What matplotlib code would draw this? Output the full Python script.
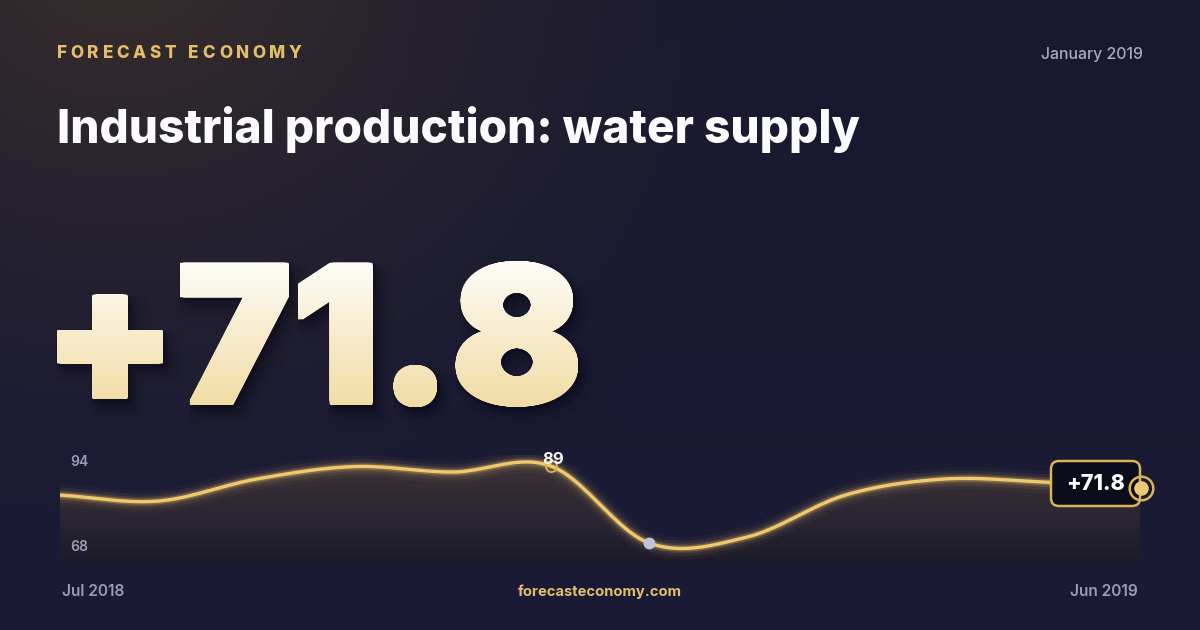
import numpy as np
import matplotlib
matplotlib.use("Agg")
import matplotlib.pyplot as plt
from matplotlib import font_manager as fm
from matplotlib.font_manager import FontProperties
from matplotlib.patches import FancyBboxPatch
from matplotlib.path import Path
from matplotlib.patheffects import AbstractPathEffect
from matplotlib.transforms import Affine2D, IdentityTransform, TransformedPath
from matplotlib.colors import LinearSegmentedColormap, to_rgb

# ---------------- data ----------------
months = ["Jul 2018", "Aug 2018", "Sep 2018", "Oct 2018", "Nov 2018", "Dec 2018",
          "Jan 2019", "Feb 2019", "Mar 2019", "Apr 2019", "May 2019", "Jun 2019"]
values = [66.3, 61.6, 78.8, 88.6, 84.3, 89.0, 28.8, 33.5, 66.3, 78.8, 76.5, 71.8]
headline = "+71.8"
brand = "FORECAST ECONOMY"
title = "Industrial production: water supply"
period = "January 2019"
site = "forecasteconomy.com"
range_top, range_bottom = "94", "68"
peak_label = "89"

W, H = 1200, 630
GOLD = "#EDC56A"
GOLD_DARK = "#D9B25A"
MUTED = "#9A9BB8"


def find_font(name, weight):
    for f in fm.fontManager.ttflist:
        if f.name == name and f.style == "normal" and str(f.weight) == str(weight):
            return FontProperties(fname=f.fname)
    return None


BIG_FP = (find_font("Inter", 900) or find_font("Lato", 900)
          or FontProperties(family="DejaVu Sans", weight="bold"))


class GradientBold(AbstractPathEffect):
    """Fill text with a vertical gradient, fitted into a pixel box, emboldened, with a soft shadow."""

    def __init__(self, top, bottom, box, grow=3.0):
        super().__init__()
        self.top = np.array(to_rgb(top))
        self.bottom = np.array(to_rgb(bottom))
        self.box = box  # x0, x1, ytop, ybot in top-left pixel coordinates
        self.grow = grow

    def draw_path(self, renderer, gc, tpath, affine, rgbFace=None):
        base = affine.transform_path(tpath)
        e = base.get_extents()
        r = self.grow
        hgt = renderer.height
        bx0, bx1, bt, bb = self.box
        tx0, tx1 = bx0 + r, bx1 - r
        ty0, ty1 = (hgt - bb) + r, (hgt - bt) - r
        fit = (Affine2D().translate(-e.x0, -e.y0)
               .scale((tx1 - tx0) / e.width, (ty1 - ty0) / e.height)
               .translate(tx0, ty0))
        base = base.transformed(fit)
        g1 = np.linspace(-r, r, 5)
        offs = [(0.0, 0.0)] + [(dx, dy) for dx in g1 for dy in g1
                               if abs(dx) == r or abs(dy) == r]
        bold = Path.make_compound_path(*[base.transformed(Affine2D().translate(dx, dy))
                                         for dx, dy in offs])
        ident = IdentityTransform()
        dark = (0.02, 0.02, 0.07)
        for dx, dy, lw, a in [(10, 13, 18, 0.035), (7, 10, 11, 0.05), (4, 6, 6, 0.08), (2, 3, 2, 0.11)]:
            g = renderer.new_gc()
            g.copy_properties(gc)
            g.set_alpha(a)
            g.set_linewidth(lw)
            g.set_foreground(dark)
            g.set_joinstyle("round")
            renderer.draw_path(g, bold, Affine2D().translate(dx, -dy), dark)
            g.restore()
        be = bold.get_extents()
        x0, y0 = int(np.floor(be.x0)), int(np.floor(be.y0))
        w = int(np.ceil(be.x1)) - x0 + 1
        h = int(np.ceil(be.y1)) - y0 + 1
        tt = np.linspace(0, 1, h)[:, None, None]   # row 0 = bottom of the glyphs
        rgb = self.bottom * (1 - tt) + self.top * tt
        img = np.ones((h, w, 4))
        img[..., :3] = rgb
        img = (img * 255).astype(np.uint8)
        g = renderer.new_gc()
        g.copy_properties(gc)
        g.set_alpha(1.0)
        g.set_clip_path(TransformedPath(bold, ident))
        renderer.draw_image(g, x0, y0, img)
        g.restore()


fig = plt.figure(figsize=(W / 100, H / 100), dpi=100)
bg = fig.add_axes([0, 0, 1, 1])
bg.set_xlim(0, W)
bg.set_ylim(H, 0)
bg.axis("off")

# ---------------- background ----------------
yy, xx = np.mgrid[0:H, 0:W]
base_c = np.array([24, 24, 47]) / 255.0
low_c = np.array([27, 27, 54]) / 255.0
t = (yy / H)[..., None]
img = base_c * (1 - t) + low_c * t
warm = np.array([56, 46, 44]) / 255.0
d = np.sqrt(((xx - 120) / 1.0) ** 2 + ((yy + 40) / 0.8) ** 2)
wgt = np.clip(1 - d / 760, 0, 1) ** 1.5
img = img * (1 - wgt[..., None]) + warm * wgt[..., None]
bg.imshow(img, extent=(0, W, H, 0), aspect="auto", zorder=0, interpolation="bilinear")

renderer = fig.canvas.get_renderer()


def text_width(tobj):
    return tobj.get_window_extent(renderer=renderer).width


# ---------------- header ----------------
chars = []
for ch in brand:
    tt = bg.text(0, 53, ch, color="#E2BE6A", fontsize=12.3, fontweight="heavy",
                 family="Inter", va="center", ha="left", zorder=5)
    chars.append((tt, text_width(tt) if ch != " " else 5))
total_glyph = sum(wc for _, wc in chars)
gap = (245 - total_glyph) / (len(chars) - 1)
x = 57
for tt, wc in chars:
    tt.set_x(x)
    x += wc + gap

bg.text(1143, 54, period, color="#A9AAC0", fontsize=11.4, family="Inter",
        fontweight="medium", va="center", ha="right", zorder=5)

ttl = bg.text(57, 143, title, color="#FBFBFD", fontsize=36, family="Inter",
              fontweight="heavy", va="baseline", ha="left", zorder=5)
ttl.set_fontsize(36 * 801 / text_width(ttl))

# ---------------- big headline (real text, gradient fill) ----------------
big = bg.text(57, 405, headline, fontproperties=BIG_FP, fontsize=140, color="#F6E6BC",
              ha="left", va="baseline", zorder=4,
              path_effects=[GradientBold("#FDFCF8", "#F2DCA4", (57, 578, 261, 407), grow=2.2)])

# ---------------- chart ----------------
L, R, T, B = 60, 1140, 455, 565
ax = fig.add_axes([L / W, (H - B) / H, (R - L) / W, (B - T) / H])
ax.patch.set_alpha(0)
ax.axis("off")
n = len(values)
xs = np.arange(n)
ax.set_xlim(0, n - 1)
ymin_v, ymax_v = 11.6, 97.6
ax.set_ylim(ymin_v, ymax_v)

vals = np.array(values, dtype=float)
m = np.zeros(n)
m[1:-1] = (vals[2:] - vals[:-2]) / 2
m[0] = vals[1] - vals[0]
m[-1] = vals[-1] - vals[-2]
cx, cy = [], []
for i in range(n - 1):
    s = np.linspace(0, 1, 40, endpoint=(i == n - 2))
    h00 = 2 * s**3 - 3 * s**2 + 1
    h10 = s**3 - 2 * s**2 + s
    h01 = -2 * s**3 + 3 * s**2
    h11 = s**3 - s**2
    cy.extend(h00 * vals[i] + h10 * m[i] + h01 * vals[i + 1] + h11 * m[i + 1])
    cx.extend(i + s)
cx = np.array(cx)
cy = np.array(cy)

fill = ax.fill_between(cx, cy, ymin_v, facecolor="none", edgecolor="none")
fill_cmap = LinearSegmentedColormap.from_list("f", ["#1c1a29", "#2b2632", "#3b3236"])
fimg = np.linspace(0, 1, 200)[:, None] * np.ones((1, 2))
fi = ax.imshow(fimg, extent=(0, n - 1, ymin_v, ymax_v - 8), origin="lower",
               cmap=fill_cmap, aspect="auto", zorder=1, interpolation="bilinear")
fi.set_clip_path(fill.get_paths()[0], transform=ax.transData)

for lw, a in [(16, 0.035), (11, 0.07), (7, 0.13), (4.5, 0.26)]:
    ax.plot(cx, cy, color=GOLD, lw=lw, alpha=a, solid_capstyle="round", zorder=2)
ax.plot(cx, cy, color="#F0C96E", lw=2.4, solid_capstyle="round", zorder=3)

# overlay axes (above the chart)
top = fig.add_axes([0, 0, 1, 1])
top.set_xlim(0, W)
top.set_ylim(H, 0)
top.axis("off")
top.patch.set_alpha(0)


def to_px(xv, yv):
    px, py = ax.transData.transform((xv, yv))
    return px, H - py


ipk = int(np.argmax(vals))
imn = int(np.argmin(vals))
pkx, pky = to_px(xs[ipk], vals[ipk])
top.text(pkx + 2, pky - 6, peak_label, ha="center", va="center", color="#F6F3EA",
         fontsize=12, fontweight="bold", family="Inter", zorder=5)
ax.plot(xs[ipk], vals[ipk], marker="o", ms=8, mfc="none", mec=GOLD_DARK, mew=1.3, zorder=6)
ax.plot(xs[imn], vals[imn], marker="o", ms=8.5, mfc="#BFC3DA", mec="none", zorder=6)

# badge with last value
ex, ey = to_px(xs[-1], vals[-1])
bw, bh = 89, 45
badge = FancyBboxPatch((ex - 89, ey - 27), bw, bh, boxstyle="round,pad=0,rounding_size=8",
                       facecolor="#0B0D1C", edgecolor=GOLD_DARK, lw=1.8, zorder=6)
top.add_patch(badge)
top.text(ex - 89 + bw / 2, ey - 27 + bh / 2, headline, color="white", fontsize=15.5,
         fontweight="heavy", family="Inter", ha="center", va="center", zorder=7)
top.plot(ex + 1, ey, marker="o", ms=17, mfc="none", mec=GOLD_DARK, mew=1.8, zorder=8)
top.plot(ex + 1, ey, marker="o", ms=10.5, mfc="#EBC874", mec="none", zorder=8)

# range labels
top.text(70, 462, range_top, color=MUTED, fontsize=10, fontweight="semibold",
         family="Inter", va="center", ha="left", zorder=5)
top.text(70, 547, range_bottom, color=MUTED, fontsize=10, fontweight="semibold",
         family="Inter", va="center", ha="left", zorder=5)

# footer
top.text(62, 592, months[0], color=MUTED, fontsize=11.2, fontweight="semibold",
         family="Inter", va="center", ha="left", zorder=5)
top.text(1138, 592, months[-1], color=MUTED, fontsize=11.2, fontweight="semibold",
         family="Inter", va="center", ha="right", zorder=5)
top.text(600, 592, site, color="#E2BE6A", fontsize=10.6, fontweight="bold",
         family="Inter", va="center", ha="center", zorder=5)

fig.savefig("out.png", dpi=100)
